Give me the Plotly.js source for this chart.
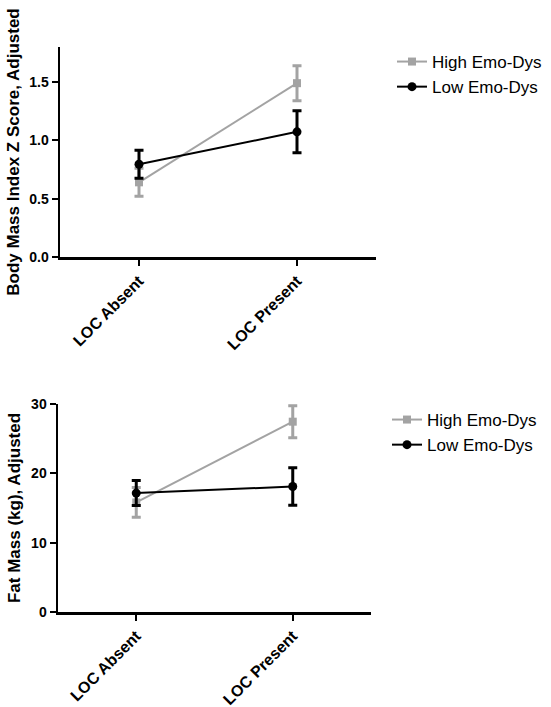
<!DOCTYPE html>
<html>
<head>
<meta charset="utf-8">
<script src="https://cdn.plot.ly/plotly-3.0.1.min.js"></script>
<style>html,body{margin:0;padding:0;background:#fff;}#chart{width:551px;height:707px;}</style>
</head>
<body>
<div id="chart"></div>
<script>
const categories = ["LOC Absent", "LOC Present"];
const seriesNames = ["High Emo-Dys", "Low Emo-Dys"];

// Top panel: BMI Z score, adjusted
const bmiHigh = [0.64, 1.49];
const bmiHighErr = [0.12, 0.15];
const bmiLow = [0.795, 1.073];
const bmiLowErr = [0.12, 0.18];

// Bottom panel: fat mass (kg), adjusted
const fatHigh = [15.8, 27.45];
const fatHighErr = [2.15, 2.3];
const fatLow = [17.15, 18.1];
const fatLowErr = [1.8, 2.7];

const yTicksTop = [0, 0.5, 1.0, 1.5];
const yTickTextTop = ["0.0", "0.5", "1.0", "1.5"];
const yTicksBottom = [0, 10, 20, 30];

const titleTop = "Body Mass Index Z Score, Adjusted";
const titleBottom = "Fat Mass (kg), Adjusted";

const GRAY = "#a3a3a3";
const BLACK = "#000000";
const FONT = "Liberation Sans, Arial, sans-serif";

function series(y, err, name, color, symbol, size, xa, ya, legend) {
  return {
    type: "scatter", mode: "lines+markers",
    x: categories, y: y, name: name,
    xaxis: xa, yaxis: ya, legend: legend,
    line: {color: color, width: 2},
    marker: {color: color, symbol: symbol, size: size},
    error_y: {type: "data", array: err, visible: true, color: color, thickness: 3, width: 4.5}
  };
}

const traces = [
  series(bmiHigh, bmiHighErr, seriesNames[0], GRAY, "square", 8, "x", "y", "legend"),
  series(bmiLow, bmiLowErr, seriesNames[1], BLACK, "circle", 9, "x", "y", "legend"),
  series(fatHigh, fatHighErr, seriesNames[0], GRAY, "square", 8, "x2", "y2", "legend2"),
  series(fatLow, fatLowErr, seriesNames[1], BLACK, "circle", 9, "x2", "y2", "legend2")
];

const W = 551, H = 707;
const axisCommon = {
  showgrid: false, zeroline: false, showline: true,
  linecolor: "#000", linewidth: 2.5,
  ticks: "outside", ticklen: 6, tickwidth: 2, tickcolor: "#000"
};
const yTickFont = {family: FONT, size: 14, color: "#000", weight: "bold"};
const xTickFont = {family: FONT, size: 16, color: "#000", weight: "bold"};
const titleFont = {family: FONT, size: 17, weight: "bold", color: "#000"};
const legendFont = {family: FONT, size: 17, color: "#000"};

const layout = {
  width: W, height: H,
  margin: {l: 0, r: 0, t: 0, b: 0},
  paper_bgcolor: "#fff", plot_bgcolor: "#fff",
  font: {family: FONT, color: "#000"},
  xaxis: Object.assign({}, axisCommon, {
    domain: [60/W, 376/W], anchor: "y", range: [-0.5, 1.5], tickangle: -45, tickfont: xTickFont
  }),
  yaxis: Object.assign({}, axisCommon, {
    domain: [1 - 257/H, 1 - 47/H], anchor: "x", range: [0, 1.8],
    tickvals: yTicksTop, ticktext: yTickTextTop, tickfont: yTickFont,
    title: {text: titleTop, font: titleFont, standoff: 6}
  }),
  xaxis2: Object.assign({}, axisCommon, {
    domain: [58/W, 371/W], anchor: "y2", range: [-0.5, 1.5], tickangle: -45, tickfont: xTickFont
  }),
  yaxis2: Object.assign({}, axisCommon, {
    domain: [1 - 612/H, 1 - 404/H], anchor: "x2", range: [0, 30],
    tickvals: yTicksBottom, tickfont: yTickFont,
    title: {text: titleBottom, font: titleFont, standoff: 6}
  }),
  legend: {
    x: 392/W, y: 1 - 44/H, xanchor: "left", yanchor: "top",
    font: legendFont, bgcolor: "rgba(0,0,0,0)", tracegroupgap: 0
  },
  legend2: {
    x: 387/W, y: 1 - 402/H, xanchor: "left", yanchor: "top",
    font: legendFont, bgcolor: "rgba(0,0,0,0)", tracegroupgap: 0
  },
  showlegend: true
};

Plotly.newPlot("chart", traces, layout, {displayModeBar: false, staticPlot: true});
</script>
</body>
</html>
